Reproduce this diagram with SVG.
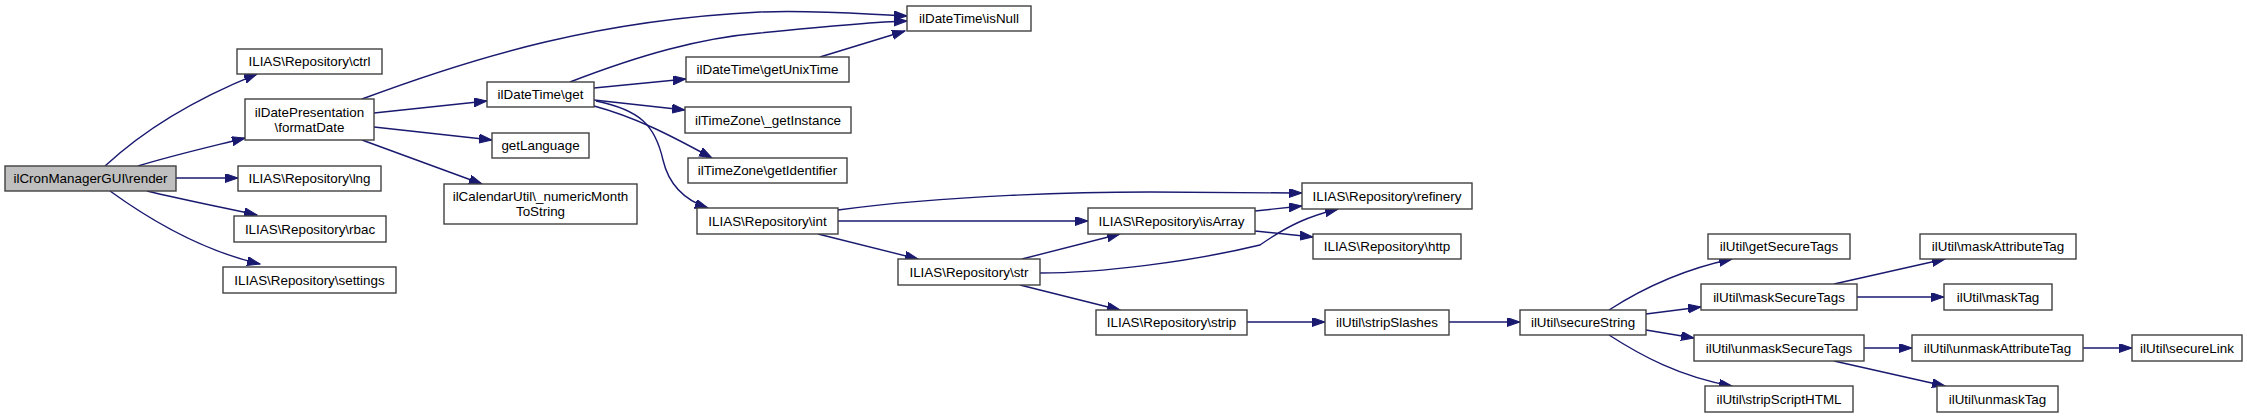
<svg xmlns="http://www.w3.org/2000/svg" width="2247" height="417" viewBox="0 0 2247 417">
<style>
.n rect{fill:#ffffff;stroke:#404040;stroke-width:1.4}
.n.root rect{fill:#bfbfbf}
.n text{font-family:"Liberation Sans",Arial,sans-serif;font-size:13.4px;fill:#000;text-anchor:middle}
.e path{fill:none;stroke:#191970;stroke-width:1.4}
</style>
<defs>
<marker id="ah" markerUnits="userSpaceOnUse" markerWidth="14" markerHeight="10" refX="13" refY="4.5" orient="auto">
<path d="M0,0 L13,4.5 L0,9 z" fill="#191970" stroke="#191970" stroke-width="1"/>
</marker>
</defs>
<rect width="2247" height="417" fill="#ffffff"/>
<g id="edges" class="e" marker-end="url(#ah)">
<path d="M105,166 C135,138 180,105 257,74" marker-end="url(#ah)"/>
<path d="M138,166 C170,156 205,148 245,138" marker-end="url(#ah)"/>
<path d="M176,178 L238,178" marker-end="url(#ah)"/>
<path d="M147,191 C180,199 220,207 257,215" marker-end="url(#ah)"/>
<path d="M110,191 C150,220 200,250 260,264" marker-end="url(#ah)"/>
<path d="M362,99 C480,55 600,20 760,12 C820,10 860,14 907,16" marker-end="url(#ah)"/>
<path d="M374,113 L487,101" marker-end="url(#ah)"/>
<path d="M374,127 L492,140" marker-end="url(#ah)"/>
<path d="M362,140 L482,184" marker-end="url(#ah)"/>
<path d="M570,82 C640,55 700,38 760,33 C820,27 870,22 907,21" marker-end="url(#ah)"/>
<path d="M594,88 L686,79" marker-end="url(#ah)"/>
<path d="M594,100 L685,110" marker-end="url(#ah)"/>
<path d="M594,106 C635,117 670,135 712,158" marker-end="url(#ah)"/>
<path d="M596,101 C640,110 655,125 663,160 C670,190 690,202 708,208" marker-end="url(#ah)"/>
<path d="M820,57 L905,31" marker-end="url(#ah)"/>
<path d="M838,210 C950,195 1080,192 1150,192 C1220,192 1260,193 1302,193" marker-end="url(#ah)"/>
<path d="M838,221 L1088,221" marker-end="url(#ah)"/>
<path d="M818,234 L918,259" marker-end="url(#ah)"/>
<path d="M1255,211 L1302,206" marker-end="url(#ah)"/>
<path d="M1255,231 L1313,237" marker-end="url(#ah)"/>
<path d="M1022,259 L1120,234" marker-end="url(#ah)"/>
<path d="M1040,273 C1100,273 1190,262 1260,245 C1290,224 1310,216 1338,209" marker-end="url(#ah)"/>
<path d="M1020,285 L1120,310" marker-end="url(#ah)"/>
<path d="M1247,322 L1325,322" marker-end="url(#ah)"/>
<path d="M1449,322 L1520,322" marker-end="url(#ah)"/>
<path d="M1609,310 C1640,290 1680,270 1732,259" marker-end="url(#ah)"/>
<path d="M1646,314 L1701,307" marker-end="url(#ah)"/>
<path d="M1646,330 L1694,338" marker-end="url(#ah)"/>
<path d="M1609,335 C1640,355 1680,377 1732,386" marker-end="url(#ah)"/>
<path d="M1834,284 L1945,259" marker-end="url(#ah)"/>
<path d="M1857,297 L1944,297" marker-end="url(#ah)"/>
<path d="M1864,348 L1912,348" marker-end="url(#ah)"/>
<path d="M1834,361 L1945,386" marker-end="url(#ah)"/>
<path d="M2083,348 L2132,348" marker-end="url(#ah)"/>
</g>
<g id="render" class="n root"><rect x="5" y="166" width="171" height="25"/><text x="90.5" y="183.3">ilCronManagerGUI\render</text></g>
<g id="ctrl" class="n"><rect x="237" y="49" width="145" height="25"/><text x="309.5" y="66.3">ILIAS\Repository\ctrl</text></g>
<g id="formatDate" class="n"><rect x="245" y="99" width="129" height="41"/><text x="309.5" y="116.5">ilDatePresentation</text><text x="309.5" y="131.5">\formatDate</text></g>
<g id="lng" class="n"><rect x="238" y="166" width="143" height="25"/><text x="309.5" y="183.3">ILIAS\Repository\lng</text></g>
<g id="rbac" class="n"><rect x="234" y="216" width="152" height="26"/><text x="310" y="233.8">ILIAS\Repository\rbac</text></g>
<g id="settings" class="n"><rect x="223" y="267" width="173" height="26"/><text x="309.5" y="284.8">ILIAS\Repository\settings</text></g>
<g id="get" class="n"><rect x="487" y="82" width="107" height="25"/><text x="540.5" y="99.3">ilDateTime\get</text></g>
<g id="getLanguage" class="n"><rect x="492" y="133" width="97" height="25"/><text x="540.5" y="150.3">getLanguage</text></g>
<g id="numericMonth" class="n"><rect x="444" y="184" width="193" height="40"/><text x="540.5" y="200.5">ilCalendarUtil\_numericMonth</text><text x="540.5" y="215.5">ToString</text></g>
<g id="isNull" class="n"><rect x="907" y="6" width="124" height="25"/><text x="969" y="23.3">ilDateTime\isNull</text></g>
<g id="getUnixTime" class="n"><rect x="686" y="57" width="163" height="25"/><text x="767.5" y="74.3">ilDateTime\getUnixTime</text></g>
<g id="getInstance" class="n"><rect x="685" y="107" width="166" height="26"/><text x="768" y="124.8">ilTimeZone\_getInstance</text></g>
<g id="getIdentifier" class="n"><rect x="688" y="158" width="159" height="25"/><text x="767.5" y="175.3">ilTimeZone\getIdentifier</text></g>
<g id="int" class="n"><rect x="697" y="208" width="141" height="26"/><text x="767.5" y="225.8">ILIAS\Repository\int</text></g>
<g id="str" class="n"><rect x="898" y="259" width="142" height="26"/><text x="969" y="276.8">ILIAS\Repository\str</text></g>
<g id="isArray" class="n"><rect x="1088" y="208" width="167" height="26"/><text x="1171.5" y="225.8">ILIAS\Repository\isArray</text></g>
<g id="strip" class="n"><rect x="1096" y="310" width="151" height="25"/><text x="1171.5" y="327.3">ILIAS\Repository\strip</text></g>
<g id="refinery" class="n"><rect x="1302" y="183" width="170" height="26"/><text x="1387" y="200.8">ILIAS\Repository\refinery</text></g>
<g id="http" class="n"><rect x="1313" y="234" width="148" height="25"/><text x="1387" y="251.3">ILIAS\Repository\http</text></g>
<g id="stripSlashes" class="n"><rect x="1325" y="310" width="124" height="25"/><text x="1387" y="327.3">ilUtil\stripSlashes</text></g>
<g id="secureString" class="n"><rect x="1520" y="310" width="126" height="25"/><text x="1583" y="327.3">ilUtil\secureString</text></g>
<g id="getSecureTags" class="n"><rect x="1708" y="234" width="142" height="25"/><text x="1779" y="251.3">ilUtil\getSecureTags</text></g>
<g id="maskSecureTags" class="n"><rect x="1701" y="284" width="156" height="26"/><text x="1779" y="301.8">ilUtil\maskSecureTags</text></g>
<g id="unmaskSecureTags" class="n"><rect x="1694" y="335" width="170" height="26"/><text x="1779" y="352.8">ilUtil\unmaskSecureTags</text></g>
<g id="stripScriptHTML" class="n"><rect x="1705" y="386" width="148" height="26"/><text x="1779" y="403.8">ilUtil\stripScriptHTML</text></g>
<g id="maskAttributeTag" class="n"><rect x="1920" y="234" width="156" height="25"/><text x="1998" y="251.3">ilUtil\maskAttributeTag</text></g>
<g id="maskTag" class="n"><rect x="1944" y="284" width="108" height="26"/><text x="1998" y="301.8">ilUtil\maskTag</text></g>
<g id="unmaskAttributeTag" class="n"><rect x="1912" y="335" width="171" height="26"/><text x="1997.5" y="352.8">ilUtil\unmaskAttributeTag</text></g>
<g id="unmaskTag" class="n"><rect x="1937" y="386" width="121" height="26"/><text x="1997.5" y="403.8">ilUtil\unmaskTag</text></g>
<g id="secureLink" class="n"><rect x="2132" y="335" width="110" height="26"/><text x="2187" y="352.8">ilUtil\secureLink</text></g>
</svg>
